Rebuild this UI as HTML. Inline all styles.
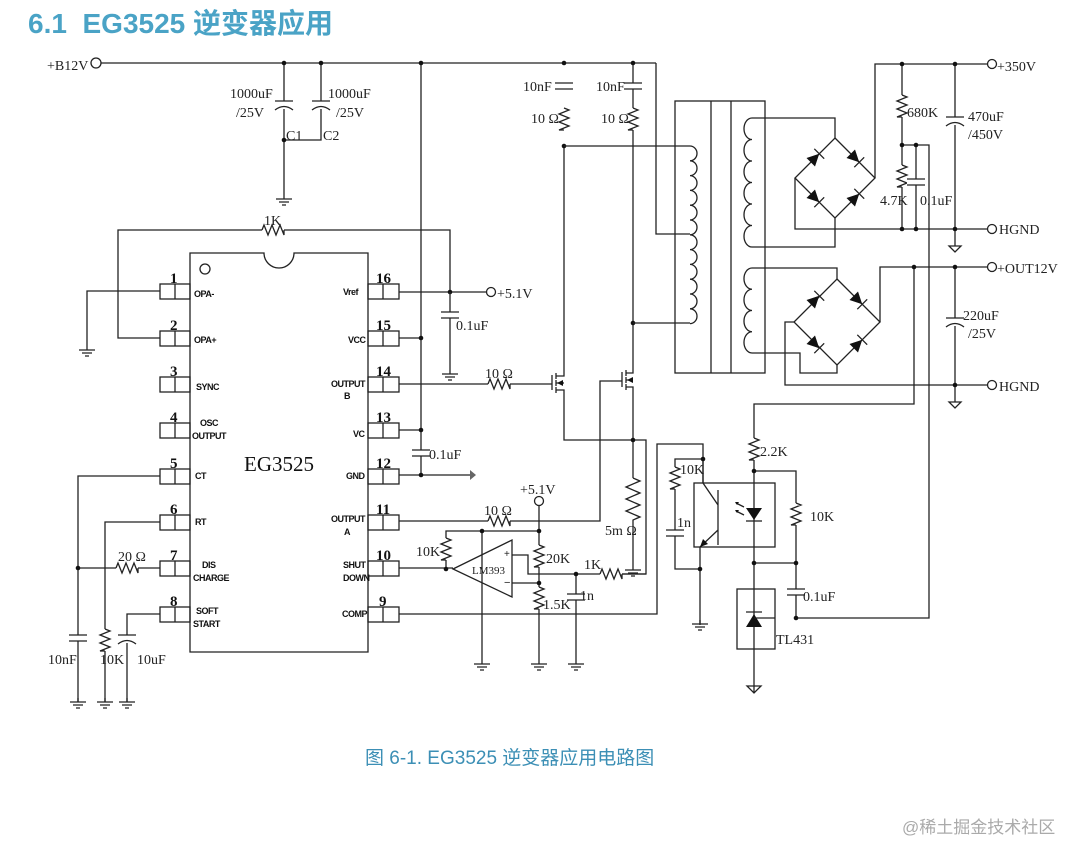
<!DOCTYPE html>
<html><head><meta charset="utf-8"><style>
html,body{margin:0;padding:0;background:#fff}
svg{display:block}
.w{fill:none;stroke:#222;stroke-width:1.3}
.t{font-family:"Liberation Serif","Noto Serif CJK SC",serif;font-size:14px;fill:#222}
.p{font-family:"Liberation Sans",sans-serif;font-weight:bold;font-size:9px;fill:#111;letter-spacing:-0.5px}
.n{font-family:"Liberation Serif",serif;font-weight:bold;font-size:15px;fill:#111}
</style></head><body>
<svg width="1083" height="858" viewBox="0 0 1083 858" xmlns="http://www.w3.org/2000/svg">
<defs>
<g id="g"><path class="w" d="M0,0v4M-8,4h16M-5,7h10M-2,10h4"/></g>
<g id="r"><rect x="-6" y="0" width="12" height="22" fill="#fff"/><path class="w" d="M0,0l5,2l-10,4l10,4l-10,4l10,4l-10,4l5,0"/></g>
<g id="c"><rect x="-9" y="-3" width="18" height="6" fill="#fff"/><path class="w" d="M-9,-3h18M-9,3h18"/></g>
<g id="e"><rect x="-9" y="-3" width="18" height="8" fill="#fff"/><path class="w" d="M-9,-3h18M-9,6q9,-7 18,0"/></g>
<g id="d"><path d="M-6,-6L-6,6L6,0Z" fill="#111"/><path class="w" d="M6,-7v14"/></g>
<g id="dot"><circle r="2.3" fill="#111"/></g>
</defs>

<text x="28" y="33" style="font-family:'Liberation Sans','Noto Sans CJK SC',sans-serif;font-weight:bold;font-size:28px;fill:#4aa3c6">6.1&#160;&#160;EG3525 逆变器应用</text>

<!-- top rail -->
<circle cx="96" cy="63" r="5" class="w"/>
<text x="47" y="70" class="t">+B12V</text>
<path class="w" d="M101,63H656"/>
<path class="w" d="M284,63V140H321V63M284,140V195"/>
<use href="#e" x="284" y="104"/><use href="#e" x="321" y="104"/>
<use href="#g" x="284" y="195"/>
<use href="#dot" x="284" y="63"/><use href="#dot" x="321" y="63"/><use href="#dot" x="284" y="140"/>
<text x="230" y="98" class="t">1000uF</text><text x="236" y="117" class="t">/25V</text>
<text x="328" y="98" class="t">1000uF</text><text x="336" y="117" class="t">/25V</text>
<text x="286" y="140" class="t">C1</text><text x="323" y="140" class="t">C2</text>

<!-- IC -->
<path class="w" d="M190,253H264A15,15 0 0 0 294,253H368V652H190Z"/>
<circle cx="205" cy="269" r="5" class="w"/>
<text x="279" y="471" text-anchor="middle" style="font-family:'Liberation Serif',serif;font-size:21px;fill:#111">EG3525</text>
<g class="w">
<rect x="160" y="284" width="30" height="15"/><path d="M175,284v15"/>
<rect x="160" y="331" width="30" height="15"/><path d="M175,331v15"/>
<rect x="160" y="377" width="30" height="15"/><path d="M175,377v15"/>
<rect x="160" y="423" width="30" height="15"/><path d="M175,423v15"/>
<rect x="160" y="469" width="30" height="15"/><path d="M175,469v15"/>
<rect x="160" y="515" width="30" height="15"/><path d="M175,515v15"/>
<rect x="160" y="561" width="30" height="15"/><path d="M175,561v15"/>
<rect x="160" y="607" width="30" height="15"/><path d="M175,607v15"/>
<rect x="368" y="284" width="31" height="15"/><path d="M383,284v15"/>
<rect x="368" y="331" width="31" height="15"/><path d="M383,331v15"/>
<rect x="368" y="377" width="31" height="15"/><path d="M383,377v15"/>
<rect x="368" y="423" width="31" height="15"/><path d="M383,423v15"/>
<rect x="368" y="469" width="31" height="15"/><path d="M383,469v15"/>
<rect x="368" y="515" width="31" height="15"/><path d="M383,515v15"/>
<rect x="368" y="561" width="31" height="15"/><path d="M383,561v15"/>
<rect x="368" y="607" width="31" height="15"/><path d="M383,607v15"/>
</g>
<g class="n">
<text x="170" y="283">1</text><text x="170" y="330">2</text><text x="170" y="376">3</text><text x="170" y="422">4</text>
<text x="170" y="468">5</text><text x="170" y="514">6</text><text x="170" y="560">7</text><text x="170" y="606">8</text>
<text x="376" y="283">16</text><text x="376" y="330">15</text><text x="376" y="376">14</text><text x="376" y="422">13</text>
<text x="376" y="468">12</text><text x="376" y="514">11</text><text x="376" y="560">10</text><text x="379" y="606">9</text>
</g>
<g class="p">
<text x="194" y="297">OPA-</text><text x="194" y="343">OPA+</text><text x="196" y="390">SYNC</text>
<text x="200" y="426">OSC</text><text x="192" y="439">OUTPUT</text>
<text x="195" y="479">CT</text><text x="195" y="525">RT</text>
<text x="202" y="568">DIS</text><text x="193" y="581">CHARGE</text>
<text x="196" y="614">SOFT</text><text x="193" y="627">START</text>
<text x="343" y="295">Vref</text><text x="348" y="343">VCC</text>
<text x="331" y="387">OUTPUT</text><text x="344" y="399">B</text>
<text x="353" y="437">VC</text><text x="346" y="479">GND</text>
<text x="331" y="522">OUTPUT</text><text x="344" y="535">A</text>
<text x="343" y="568">SHUT</text><text x="343" y="581">DOWN</text>
<text x="342" y="617">COMP</text>
</g>

<!-- left side -->
<path class="w" d="M160,291H87V346"/><use href="#g" x="87" y="346"/>
<path class="w" d="M160,338H118V230H450V292"/>
<use href="#r" transform="translate(262,230) rotate(-90)"/>
<text x="264" y="225" class="t">1K</text>
<path class="w" d="M160,476H78V702M160,522H105V702M160,568H78M160,614H127V702"/>
<use href="#dot" x="78" y="568"/>
<use href="#r" transform="translate(116,568) rotate(-90)"/>
<text x="118" y="561" class="t">20 Ω</text>
<use href="#c" x="78" y="638"/><use href="#r" x="105" y="629"/><use href="#e" x="127" y="638"/>
<use href="#g" x="78" y="698"/><use href="#g" x="105" y="698"/><use href="#g" x="127" y="698"/>
<text x="48" y="664" class="t">10nF</text><text x="100" y="664" class="t">10K</text><text x="137" y="664" class="t">10uF</text>

<!-- right IC side -->
<path class="w" d="M399,292H486"/><circle cx="491" cy="292" r="4.5" class="w"/>
<text x="497" y="298" class="t">+5.1V</text>
<use href="#dot" x="450" y="292"/>
<path class="w" d="M450,292V370"/><use href="#c" x="450" y="315"/><use href="#g" x="450" y="370"/>
<text x="456" y="330" class="t">0.1uF</text>
<path class="w" d="M421,63V475M399,338H421M399,430H421M399,475H470"/>
<path d="M470,470l6,5l-6,5z" fill="#666"/>
<use href="#dot" x="421" y="63"/><use href="#dot" x="421" y="338"/><use href="#dot" x="421" y="430"/><use href="#dot" x="421" y="475"/>
<use href="#c" x="421" y="453"/><text x="429" y="459" class="t">0.1uF</text>
<!-- output B -->
<path class="w" d="M399,384H552"/><use href="#r" transform="translate(488,384) rotate(-90)"/>
<text x="485" y="378" class="t">10 Ω</text>
<!-- output A -->
<path class="w" d="M399,521H600V381H622"/><use href="#r" transform="translate(488,521) rotate(-90)"/>
<text x="484" y="515" class="t">10 Ω</text>
<!-- mosfets -->
<path class="w" d="M552,375V390M556,373v6M556,380v6M556,387v6M556,376H564V146M556,390H564V440H646V574H600M556,383H564"/>
<path class="w" d="M622,372V387M626,370v6M626,377v6M626,384v6M626,373H633V63M626,387H633V478M626,380H633"/>
<path d="M557,383l6,-3v6z M627,380l6,-3v6z" fill="#111"/>
<use href="#dot" x="564" y="146"/><use href="#dot" x="633" y="323"/><use href="#dot" x="633" y="440"/>
<use href="#dot" x="564" y="63"/><use href="#dot" x="633" y="63"/>
<!-- snubbers -->
<use href="#c" x="564" y="86"/><use href="#r" x="564" y="108"/>
<use href="#c" x="633" y="86"/><use href="#r" x="633" y="108"/>
<text x="523" y="91" class="t">10nF</text><text x="596" y="91" class="t">10nF</text>
<text x="531" y="123" class="t">10 Ω</text><text x="601" y="123" class="t">10 Ω</text>
<!-- shunt -->
<path class="w" d="M633,478l7,3l-14,6l14,6l-14,6l14,6l-14,6l14,6l-7,3V566"/>
<use href="#g" x="633" y="566"/>
<text x="605" y="535" class="t">5m Ω</text>
<!-- LM393 -->
<circle cx="539" cy="501" r="4.5" class="w"/><text x="520" y="494" class="t">+5.1V</text>
<path class="w" d="M539,506V660M539,531H446V569M399,568H453M482,531V660M512,555H528V574H646M512,583H539M576,574V660"/>
<path class="w" d="M453,569L512,540V597Z" fill="#fff"/>
<text x="472" y="574" style="font-family:'Liberation Serif',serif;font-size:11px;fill:#222">LM393</text>
<text x="504" y="557" style="font-size:10px;font-family:'Liberation Sans';fill:#222">+</text>
<text x="504" y="586" style="font-size:11px;font-family:'Liberation Sans';fill:#222">−</text>
<use href="#r" x="446" y="538"/><use href="#r" x="539" y="545"/><use href="#r" x="539" y="587"/>
<use href="#r" transform="translate(600,574) rotate(-90)"/>
<use href="#c" x="576" y="597"/>
<use href="#dot" x="539" y="531"/><use href="#dot" x="482" y="531"/><use href="#dot" x="446" y="569"/><use href="#dot" x="539" y="583"/><use href="#dot" x="576" y="574"/>
<use href="#g" x="482" y="660"/><use href="#g" x="539" y="660"/><use href="#g" x="576" y="660"/>
<text x="416" y="556" class="t">10K</text><text x="546" y="563" class="t">20K</text>
<text x="584" y="569" class="t">1K</text><text x="543" y="609" class="t">1.5K</text><text x="580" y="600" class="t">1n</text>
<!-- comp -->
<path class="w" d="M399,614H657V444H703V483"/>

<!-- transformer -->
<path class="w" d="M656,63V234H690M564,146H690M633,323H690"/>
<rect x="675" y="101" width="90" height="272" class="w"/>
<path class="w" d="M711,101V373M731,101V373"/>
<path class="w" fill="#fff" d="M690,146a7,7.4 0 0 1 0,14.8a7,7.4 0 0 1 0,14.8a7,7.4 0 0 1 0,14.8a7,7.4 0 0 1 0,14.8a7,7.4 0 0 1 0,14.8a7,7.4 0 0 1 0,14.8a7,7.4 0 0 1 0,14.8a7,7.4 0 0 1 0,14.8a7,7.4 0 0 1 0,14.8a7,7.4 0 0 1 0,14.8a7,7.4 0 0 1 0,14.8a7,7.4 0 0 1 0,14.8"/>
<path class="w" fill="#fff" d="M752,118a8,10.75 0 0 0 0,21.5a8,10.75 0 0 0 0,21.5a8,10.75 0 0 0 0,21.5a8,10.75 0 0 0 0,21.5a8,10.75 0 0 0 0,21.5a8,10.75 0 0 0 0,21.5"/>
<path class="w" fill="#fff" d="M752,268a8,10.6 0 0 0 0,21.25a8,10.6 0 0 0 0,21.25a8,10.6 0 0 0 0,21.25a8,10.6 0 0 0 0,21.25"/>
<path class="w" d="M752,118H835V138M752,247H835V218M752,268H837V279M752,353H800V373H837V365"/>
<!-- bridge 1 -->
<path class="w" d="M835,138L875,178L835,218L795,178Z"/>
<use href="#d" transform="translate(815,158) rotate(-45)"/><use href="#d" transform="translate(855,158) rotate(45)"/>
<use href="#d" transform="translate(815,198) rotate(45)"/><use href="#d" transform="translate(855,198) rotate(-45)"/>
<path class="w" d="M875,178V64H987M795,178V229H987"/>
<!-- bridge 2 -->
<path class="w" d="M837,279L880,322L837,365L794,322Z"/>
<use href="#d" transform="translate(815,300) rotate(-45)"/><use href="#d" transform="translate(858,300) rotate(45)"/>
<use href="#d" transform="translate(815,344) rotate(45)"/><use href="#d" transform="translate(858,344) rotate(-45)"/>
<path class="w" d="M880,322V267H987M794,322H785V385H987"/>
<circle cx="992" cy="64" r="4.5" class="w"/><circle cx="992" cy="229" r="4.5" class="w"/>
<circle cx="992" cy="267" r="4.5" class="w"/><circle cx="992" cy="385" r="4.5" class="w"/>
<text x="997" y="71" class="t">+350V</text><text x="999" y="234" class="t">HGND</text>
<text x="997" y="273" class="t">+OUT12V</text><text x="999" y="391" class="t">HGND</text>
<!-- HV divider -->
<path class="w" d="M902,64V229M916,145V229M902,145H929V618H796"/>
<use href="#r" x="902" y="95"/><use href="#r" x="902" y="165"/><use href="#c" x="916" y="182"/>
<use href="#dot" x="902" y="64"/><use href="#dot" x="902" y="145"/><use href="#dot" x="916" y="145"/>
<use href="#dot" x="902" y="229"/><use href="#dot" x="916" y="229"/>
<text x="907" y="117" class="t">680K</text><text x="880" y="205" class="t">4.7K</text><text x="920" y="205" class="t">0.1uF</text>
<path class="w" d="M955,64V246M955,267V402"/>
<use href="#dot" x="955" y="64"/><use href="#dot" x="955" y="229"/><use href="#dot" x="955" y="267"/><use href="#dot" x="955" y="385"/>
<use href="#e" x="955" y="120"/><use href="#e" x="955" y="321"/>
<path class="w" d="M949,246h12l-6,6z M949,402h12l-6,6z"/>
<text x="968" y="121" class="t">470uF</text><text x="968" y="139" class="t">/450V</text>
<text x="963" y="320" class="t">220uF</text><text x="968" y="338" class="t">/25V</text>
<!-- feedback -->
<path class="w" d="M914,267V404H754V692"/>
<use href="#dot" x="914" y="267"/>
<use href="#r" x="754" y="438"/>
<text x="760" y="456" class="t">2.2K</text>
<path class="w" d="M754,471H796V563H754M796,563V618"/>
<use href="#r" x="796" y="503"/><use href="#c" x="796" y="592"/>
<use href="#dot" x="754" y="471"/><use href="#dot" x="754" y="563"/><use href="#dot" x="796" y="563"/><use href="#dot" x="796" y="618"/>
<text x="810" y="521" class="t">10K</text><text x="803" y="601" class="t">0.1uF</text>
<rect x="694" y="483" width="81" height="64" class="w"/>
<path d="M746,508h16l-8,12z" fill="#111"/><path class="w" d="M746,521h16"/>
<path class="w" d="M744,507l-8,-4M744,515l-8,-4"/>
<path d="M735,502l4,0l-2,3zM735,510l4,0l-2,3z" fill="#111"/>
<path class="w" d="M718,490V545M703,459V483L718,505M718,530L700,547V625M703,459H675V569H700"/>
<path d="M700,547l3,-8l5,5z" fill="#111"/>
<use href="#r" x="675" y="467"/><use href="#c" x="675" y="533"/>
<use href="#dot" x="703" y="459"/><use href="#dot" x="700" y="569"/>
<use href="#g" x="700" y="620"/>
<text x="680" y="474" class="t">10K</text><text x="677" y="527" class="t">1n</text>
<rect x="737" y="589" width="38" height="60" class="w"/>
<path d="M746,627h16l-8,-13z" fill="#111"/><path class="w" d="M746,612h16M754,618H775"/>
<text x="776" y="644" class="t">TL431</text>
<path class="w" d="M747,686h14l-7,7z"/>

<text x="365" y="764" style="font-family:'Liberation Sans','Noto Sans CJK SC',sans-serif;font-size:19px;fill:#3c8fb5">图 6-1. EG3525 逆变器应用电路图</text>
<text x="902" y="833" style="font-family:'Liberation Sans','Noto Sans CJK SC',sans-serif;font-size:17px;fill:#aaa">@稀土掘金技术社区</text>
</svg>
</body></html>
